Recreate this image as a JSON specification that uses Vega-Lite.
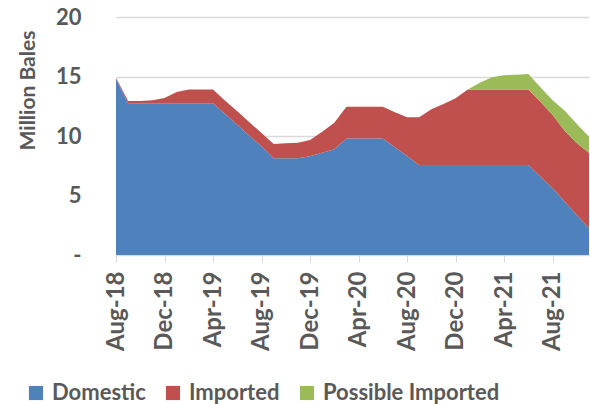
{
  "$schema": "https://vega.github.io/schema/vega-lite/v6.json",
  "width": 473,
  "height": 238,
  "autosize": {"type": "none"},
  "padding": {"left": 116, "top": 17, "right": 1, "bottom": 149},
  "background": "white",
  "config": {
    "font": "Lato",
    "view": {"stroke": null}
  },
  "datasets": {
    "raw": [
      {"month": "Aug-18", "Domestic": 14.8, "Imported": 0.1, "Possible Imported": 0},
      {"month": "Sep-18", "Domestic": 12.75, "Imported": 0.19, "Possible Imported": 0},
      {"month": "Oct-18", "Domestic": 12.75, "Imported": 0.19, "Possible Imported": 0},
      {"month": "Nov-18", "Domestic": 12.75, "Imported": 0.25, "Possible Imported": 0},
      {"month": "Dec-18", "Domestic": 12.75, "Imported": 0.45, "Possible Imported": 0},
      {"month": "Jan-19", "Domestic": 12.75, "Imported": 0.95, "Possible Imported": 0},
      {"month": "Feb-19", "Domestic": 12.75, "Imported": 1.15, "Possible Imported": 0},
      {"month": "Mar-19", "Domestic": 12.75, "Imported": 1.15, "Possible Imported": 0},
      {"month": "Apr-19", "Domestic": 12.75, "Imported": 1.15, "Possible Imported": 0},
      {"month": "May-19", "Domestic": 11.85, "Imported": 1.12, "Possible Imported": 0},
      {"month": "Jun-19", "Domestic": 10.95, "Imported": 1.12, "Possible Imported": 0},
      {"month": "Jul-19", "Domestic": 10.03, "Imported": 1.12, "Possible Imported": 0},
      {"month": "Aug-19", "Domestic": 9.13, "Imported": 1.12, "Possible Imported": 0},
      {"month": "Sep-19", "Domestic": 8.12, "Imported": 1.21, "Possible Imported": 0},
      {"month": "Oct-19", "Domestic": 8.12, "Imported": 1.27, "Possible Imported": 0},
      {"month": "Nov-19", "Domestic": 8.12, "Imported": 1.32, "Possible Imported": 0},
      {"month": "Dec-19", "Domestic": 8.3, "Imported": 1.36, "Possible Imported": 0},
      {"month": "Jan-20", "Domestic": 8.6, "Imported": 1.76, "Possible Imported": 0},
      {"month": "Feb-20", "Domestic": 8.88, "Imported": 2.24, "Possible Imported": 0},
      {"month": "Mar-20", "Domestic": 9.8, "Imported": 2.66, "Possible Imported": 0},
      {"month": "Apr-20", "Domestic": 9.8, "Imported": 2.66, "Possible Imported": 0},
      {"month": "May-20", "Domestic": 9.8, "Imported": 2.66, "Possible Imported": 0},
      {"month": "Jun-20", "Domestic": 9.8, "Imported": 2.66, "Possible Imported": 0},
      {"month": "Jul-20", "Domestic": 9.06, "Imported": 2.93, "Possible Imported": 0},
      {"month": "Aug-20", "Domestic": 8.32, "Imported": 3.25, "Possible Imported": 0},
      {"month": "Sep-20", "Domestic": 7.56, "Imported": 4.01, "Possible Imported": 0},
      {"month": "Oct-20", "Domestic": 7.56, "Imported": 4.68, "Possible Imported": 0},
      {"month": "Nov-20", "Domestic": 7.56, "Imported": 5.13, "Possible Imported": 0},
      {"month": "Dec-20", "Domestic": 7.56, "Imported": 5.61, "Possible Imported": 0},
      {"month": "Jan-21", "Domestic": 7.56, "Imported": 6.34, "Possible Imported": 0},
      {"month": "Feb-21", "Domestic": 7.56, "Imported": 6.34, "Possible Imported": 0.58},
      {"month": "Mar-21", "Domestic": 7.56, "Imported": 6.34, "Possible Imported": 1.03},
      {"month": "Apr-21", "Domestic": 7.56, "Imported": 6.34, "Possible Imported": 1.2},
      {"month": "May-21", "Domestic": 7.56, "Imported": 6.34, "Possible Imported": 1.25},
      {"month": "Jun-21", "Domestic": 7.56, "Imported": 6.34, "Possible Imported": 1.3},
      {"month": "Jul-21", "Domestic": 6.58, "Imported": 6.3, "Possible Imported": 1.21},
      {"month": "Aug-21", "Domestic": 5.6, "Imported": 6.16, "Possible Imported": 1.24},
      {"month": "Sep-21", "Domestic": 4.48, "Imported": 5.97, "Possible Imported": 1.68},
      {"month": "Oct-21", "Domestic": 3.36, "Imported": 6.03, "Possible Imported": 1.61},
      {"month": "Nov-21", "Domestic": 2.24, "Imported": 6.36, "Possible Imported": 1.34}
    ]
  },
  "data": {"name": "raw"},
  "transform": [
    {"window": [{"op": "row_number", "as": "idx"}]},
    {"fold": ["Domestic", "Imported", "Possible Imported"], "as": ["series", "value"]},
    {"calculate": "indexof(['Domestic','Imported','Possible Imported'], datum.series)", "as": "order"}
  ],
  "mark": {"type": "area", "opacity": 1, "stroke": null},
  "encoding": {
    "x": {
      "field": "month",
      "type": "ordinal",
      "sort": {"field": "idx", "op": "min"},
      "scale": {"type": "point", "padding": 0},
      "axis": {
        "title": null,
        "values": ["Aug-18", "Dec-18", "Apr-19", "Aug-19", "Dec-19", "Apr-20", "Aug-20", "Dec-20", "Apr-21", "Aug-21"],
        "labelAngle": -90,
        "labelFont": "Lato",
        "labelFontSize": 24,
        "labelFontWeight": "bold",
        "labelColor": "#595959",
        "labelPadding": 9,
        "domainColor": "#D9D9D9",
        "tickColor": "#D9D9D9",
        "tickSize": 7,
        "grid": false
      }
    },
    "y": {
      "field": "value",
      "type": "quantitative",
      "stack": "zero",
      "scale": {"domain": [0, 20], "nice": false},
      "axis": {
        "title": "Million Bales",
        "titleFont": "Lato",
        "titleFontSize": 21,
        "titleFontWeight": "bold",
        "titleColor": "#595959",
        "titlePadding": 17,
        "titleY": 73,
        "values": [0, 5, 10, 15, 20],
        "labelExpr": "datum.value == 0 ? '-' : datum.label",
        "labelFont": "Lato",
        "labelFontSize": 22,
        "labelFontWeight": "bold",
        "labelColor": "#595959",
        "labelPadding": 35,
        "domain": false,
        "ticks": false,
        "gridColor": "#D9D9D9",
        "gridWidth": 1.5
      }
    },
    "color": {
      "field": "series",
      "type": "nominal",
      "scale": {
        "domain": ["Domestic", "Imported", "Possible Imported"],
        "range": ["#4F81BD", "#C0504D", "#9BBB59"]
      },
      "legend": {
        "title": null,
        "orient": "none",
        "legendX": -91,
        "legendY": 365,
        "direction": "horizontal",
        "symbolType": "square",
        "symbolSize": 200,
        "symbolStrokeWidth": 0,
        "labelFont": "Lato",
        "labelFontSize": 22,
        "labelFontWeight": "bold",
        "labelColor": "#595959",
        "labelLimit": 0,
        "columnPadding": 16,
        "labelOffset": 5
      }
    },
    "order": {"field": "order", "type": "quantitative"}
  }
}
